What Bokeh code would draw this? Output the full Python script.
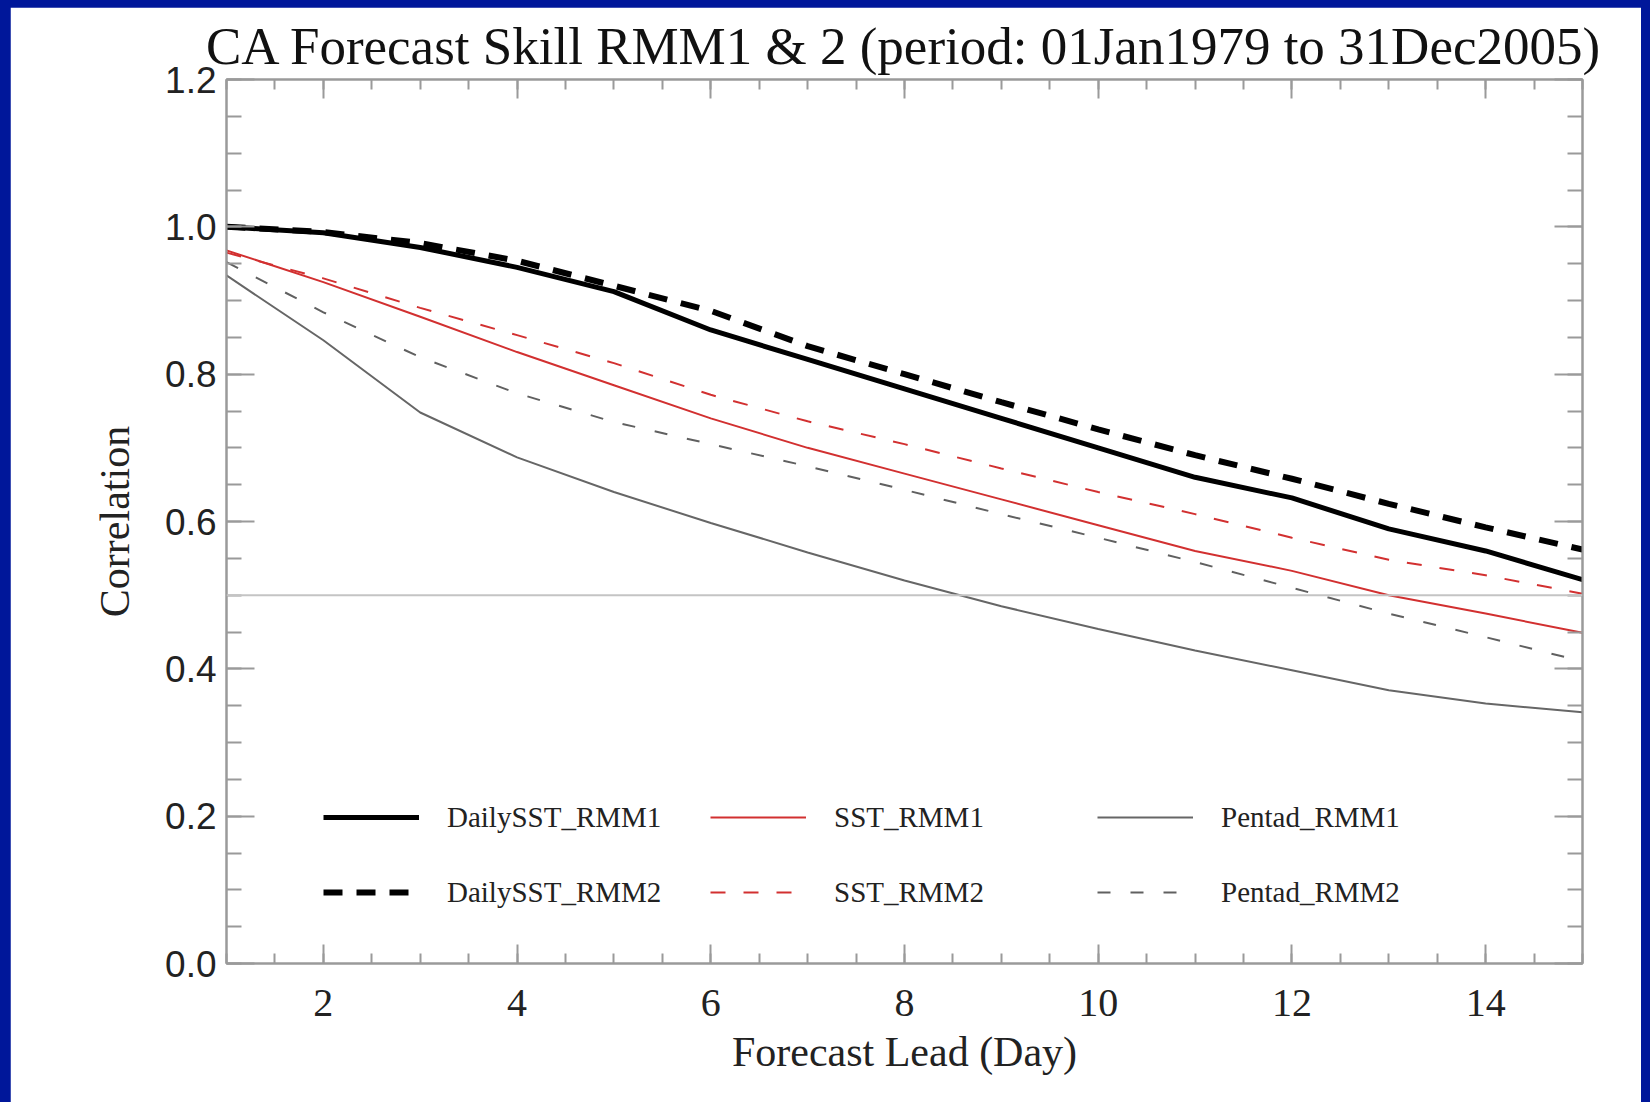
from bokeh.plotting import figure
from bokeh.models import (Range1d, FixedTicker, PrintfTickFormatter, LinearAxis, Legend,
                          LegendItem, Span, CustomJSTickFormatter)
from bokeh.layouts import column
from bokeh.embed import file_html
from bokeh.resources import INLINE

# ---------------- data ----------------
lead_days = list(range(1, 16))
daily_sst_rmm1 = [1.0, 0.992, 0.972, 0.945, 0.912, 0.86, 0.82, 0.78, 0.74, 0.70, 0.66, 0.632, 0.59, 0.56, 0.521]
daily_sst_rmm2 = [1.0, 0.993, 0.978, 0.954, 0.92, 0.886, 0.838, 0.80, 0.762, 0.725, 0.69, 0.658, 0.624, 0.592, 0.562]
sst_rmm1 = [0.968, 0.925, 0.878, 0.83, 0.785, 0.74, 0.70, 0.665, 0.63, 0.595, 0.56, 0.533, 0.50, 0.475, 0.449]
sst_rmm2 = [0.965, 0.93, 0.89, 0.853, 0.815, 0.772, 0.736, 0.705, 0.672, 0.64, 0.61, 0.578, 0.548, 0.527, 0.502]
pentad_rmm1 = [0.934, 0.846, 0.748, 0.687, 0.64, 0.598, 0.558, 0.52, 0.485, 0.454, 0.425, 0.398, 0.371, 0.353, 0.341]
pentad_rmm2 = [0.952, 0.884, 0.823, 0.774, 0.735, 0.705, 0.675, 0.643, 0.61, 0.578, 0.545, 0.51, 0.475, 0.443, 0.41]
threshold = 0.5

x_major_ticks = [2, 4, 6, 8, 10, 12, 14]
x_minor_ticks = [1 + 0.5 * i for i in range(29)]
y_major_ticks = [0.0, 0.2, 0.4, 0.6, 0.8, 1.0, 1.2]
y_minor_ticks = [round(0.05 * i, 2) for i in range(25)]

title_text = "CA Forecast Skill RMM1 & 2 (period: 01Jan1979 to 31Dec2005)"
x_label = "Forecast Lead (Day)"
y_label = "Correlation"

# ---------------- figure ----------------
SERIF = "Liberation Serif"
AXIS_GRAY = "#9a9a9a"

p = figure(width=1631, height=1095, x_range=Range1d(1, 15), y_range=Range1d(0, 1.2),
           output_backend="svg", toolbar_location=None,
           min_border_left=216, min_border_right=59, min_border_top=72, min_border_bottom=139,
           background_fill_color="white", border_fill_color="white")
p.margin = (7, 9, 0, 10)
p.xgrid.visible = False
p.ygrid.visible = False
p.outline_line_color = AXIS_GRAY
p.outline_line_width = 2

p.title.text = title_text
p.title.align = "center"
p.title.text_font = SERIF
p.title.text_font_size = "53px"
p.title.text_font_style = "normal"
p.title.text_color = "#111111"
p.title.text_line_height = 1.0
p.title.standoff = 10

xt = FixedTicker(ticks=x_major_ticks, minor_ticks=x_minor_ticks)
yt = FixedTicker(ticks=y_major_ticks, minor_ticks=y_minor_ticks)


def style_x(ax):
    ax.ticker = xt
    ax.axis_line_color = AXIS_GRAY
    ax.axis_line_width = 2
    ax.major_tick_line_color = AXIS_GRAY
    ax.minor_tick_line_color = AXIS_GRAY
    ax.major_tick_line_width = 2
    ax.minor_tick_line_width = 2
    ax.major_tick_in = 19
    ax.major_tick_out = 0
    ax.minor_tick_in = 10
    ax.minor_tick_out = 0


def style_y(ax):
    ax.ticker = yt
    ax.axis_line_color = AXIS_GRAY
    ax.axis_line_width = 2
    ax.major_tick_line_color = AXIS_GRAY
    ax.minor_tick_line_color = AXIS_GRAY
    ax.major_tick_line_width = 2
    ax.minor_tick_line_width = 2
    ax.major_tick_in = 28
    ax.major_tick_out = 0
    ax.minor_tick_in = 15
    ax.minor_tick_out = 0


xa = p.xaxis[0]
style_x(xa)
xa.major_label_text_font = SERIF
xa.major_label_text_font_size = "40px"
xa.major_label_text_color = "#222222"
xa.major_label_standoff = 26
xa.axis_label = x_label
xa.axis_label_text_font = SERIF
xa.axis_label_text_font_size = "42px"
xa.axis_label_text_font_style = "normal"
xa.axis_label_text_color = "#222222"
xa.axis_label_standoff = 10

ya = p.yaxis[0]
style_y(ya)
ya.formatter = PrintfTickFormatter(format="%.1f")
ya.major_label_text_font = "Liberation Sans"
ya.major_label_text_font_size = "37px"
ya.major_label_text_color = "#222222"
ya.major_label_standoff = 10
ya.axis_label = y_label
ya.axis_label_text_font = SERIF
ya.axis_label_text_font_size = "42px"
ya.axis_label_text_font_style = "normal"
ya.axis_label_text_color = "#222222"
ya.axis_label_standoff = 24

blank = CustomJSTickFormatter(code="return ''")
top_ax = LinearAxis(formatter=blank, major_label_standoff=0)
style_x(top_ax)
p.add_layout(top_ax, "above")
right_ax = LinearAxis(formatter=blank, major_label_standoff=0)
style_y(right_ax)
p.add_layout(right_ax, "right")

p.add_layout(Span(location=threshold, dimension="width", line_color="#c4c4c4", line_width=2))

r_d1 = p.line(lead_days, daily_sst_rmm1, line_color="black", line_width=5)
r_d2 = p.line(lead_days, daily_sst_rmm2, line_color="black", line_width=6, line_dash="19 14")
r_s1 = p.line(lead_days, sst_rmm1, line_color="#d23030", line_width=2)
r_s2 = p.line(lead_days, sst_rmm2, line_color="#d23030", line_width=2, line_dash="15 18")
r_p1 = p.line(lead_days, pentad_rmm1, line_color="#666666", line_width=2)
r_p2 = p.line(lead_days, pentad_rmm2, line_color="#606060", line_width=2, line_dash="13 20")

legend = Legend(items=[
    LegendItem(label="DailySST_RMM1", renderers=[r_d1]),
    LegendItem(label="DailySST_RMM2", renderers=[r_d2]),
    LegendItem(label="SST_RMM1", renderers=[r_s1]),
    LegendItem(label="SST_RMM2", renderers=[r_s2]),
    LegendItem(label="Pentad_RMM1", renderers=[r_p1]),
    LegendItem(label="Pentad_RMM2", renderers=[r_p2]),
], location=(97, 51), orientation="vertical", nrows=2)
legend.padding = 0
legend.margin = 0
legend.spacing = 35
legend.glyph_width = 96
legend.glyph_height = 40
legend.label_height = 40
legend.label_width = 228
legend.label_standoff = 28
legend.label_text_font = SERIF
legend.label_text_font_size = "29px"
legend.label_text_color = "#222222"
legend.border_line_color = None
legend.background_fill_alpha = 0
p.add_layout(legend, "center")

page = column(p, styles={"background-color": "#00179A"})

open("out.html", "w").write(file_html(page, INLINE))
